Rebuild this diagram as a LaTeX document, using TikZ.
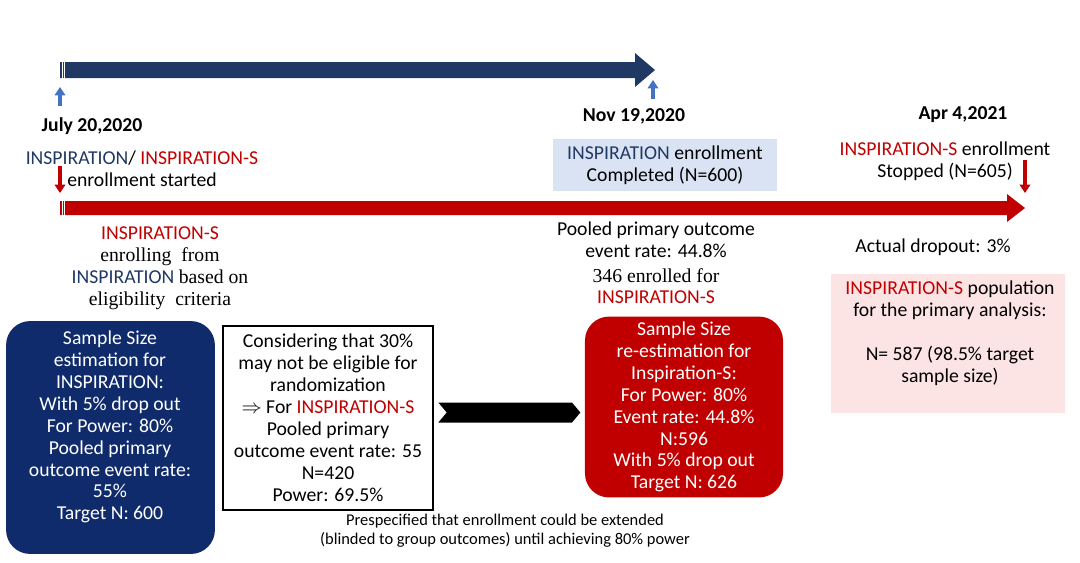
\documentclass[tikz,border=0pt]{standalone}
\usepackage{fontspec}
\setmainfont{Carlito}
\newfontfamily\timesfont{Liberation Serif}
\usetikzlibrary{calc,shapes.symbols,arrows.meta}

\definecolor{navyarrow}{HTML}{203864}
\definecolor{navybox}{HTML}{0F2B6B}
\definecolor{inspred}{HTML}{C00000}
\definecolor{tickblue}{HTML}{4472C4}
\definecolor{doneblue}{HTML}{DAE3F3}
\definecolor{stoppink}{HTML}{FCE4E4}
\newcommand{\insp}{\textcolor{navyarrow}{INSPIRATION}}
\newcommand{\insps}{\textcolor{inspred}{INSPIRATION-S}}

\begin{document}
\begin{tikzpicture}[x=0.025cm,y=-0.025cm,
    every node/.style={font=\fontsize{14}{15.6}\selectfont,inner sep=0pt,align=center},
    datelabel/.style={font=\fontsize{14}{16}\selectfont\bfseries},
    tick/.style={-{Triangle[length=6pt,width=7.5pt]},line width=2.2pt},
    roundbox/.style={rounded corners=0.6cm,text=white}]
    \useasboundingbox (0,0) rectangle (1080,562);
    \pgfmathsetmacro{\headlen}{18}
    % Define points
    \coordinate (bstart) at (60,70);
    \coordinate (bend) at (655,70);
    \coordinate (rstart) at (60,208);
    \coordinate (rend) at (1025,208);

    % Draw the two timelines
    \fill[navyarrow] ($(bstart)+(0,-8)$) -- ($(bend)+(-\headlen-2,-8)$) -- ($(bend)+(-\headlen-2,-17)$)
        -- (bend) -- ($(bend)+(-\headlen-2,17)$) -- ($(bend)+(-\headlen-2,8)$) -- ($(bstart)+(0,8)$) -- cycle;
    \fill[inspred] ($(rstart)+(0,-7)$) -- ($(rend)+(-\headlen,-7)$) -- ($(rend)+(-\headlen,-14)$)
        -- (rend) -- ($(rend)+(-\headlen,14)$) -- ($(rend)+(-\headlen,7)$) -- ($(rstart)+(0,7)$) -- cycle;
    \foreach \s in {2.5,4.5} {
        \draw[white,line width=0.5pt] ($(bstart)+(\s,-9)$) -- ($(bstart)+(\s,9)$);
        \draw[white,line width=0.5pt] ($(rstart)+(\s,-8)$) -- ($(rstart)+(\s,8)$);
    }

    % Dates and ticks
    \node[datelabel] (july) at (92,126) {July 20,2020};
    \node[datelabel] (nov) at (634,116) {Nov 19,2020};
    \node[datelabel] (apr) at (963,115) {Apr 4,2021};
    \coordinate (julytick) at (60,106);
    \coordinate (novtick) at (653,99);
    \draw[tick,tickblue] (julytick) -- ($(bstart)+(0,17)$);
    \draw[tick,tickblue] (novtick) -- ($(bend)+(-2,10)$);

    % Enrollment milestones
    \node (bothstart) at (142,158) {\insp/ \insps};
    \node[anchor=west] (started) at (67,180) {enrollment started};
    \coordinate (starttick) at (60,166);
    \draw[tick,inspred] (starttick) -- ($(rstart)+(0,-15)$);
    \node[fill=doneblue,minimum width=5.62cm,minimum height=1.3cm] (completed) at (665,165)
        {\insp{} enrollment\\Completed (N=600)};
    \node (stopped) at (945,161) {\insps{} enrollment\\Stopped (N=605)};
    \coordinate (stoptick) at (1025,160);
    \draw[tick,inspred] (stoptick) -- ($(rend)+(0,-15)$);

    % Texts under the red timeline
    \node (eligible) at (160,268) {\insps\\{\timesfont enrolling\ \ from}\\\insp{} {\timesfont based on}\\{\timesfont eligibility\ \ criteria}};
    \node (pooled) at (656,240) {Pooled primary outcome\\event rate: 44.8\%};
    \node[font=\fontsize{14}{15.6}\timesfont] (enrolled) at (656,276) {346 enrolled for};
    \node (enrolledS) at (656,297) {\insps};
    \node (dropout) at (933,247) {Actual dropout: 3\%};

    % Boxes
    \node[roundbox,fill=navybox,minimum width=5.22cm,minimum height=5.82cm] (sizebox) at (110.5,437.5) {};
    \node[text=white] (sizetext) at (110,427) {Sample Size\\estimation for\\INSPIRATION:\\With 5\% drop out\\For Power: 80\%\\Pooled primary\\outcome event rate:\\55\%\\Target N: 600};
    \node[draw,line width=1.4pt,fill=white,minimum width=5.25cm,minimum height=4.6cm] (eligbox) at (328,418)
        {Considering that 30\%\\may not be eligible for\\randomization\\$\Rightarrow$ For \insps\\Pooled primary\\outcome event rate: 55\\N=420\\Power: 69.5\%};
    \node[roundbox,fill=inspred,minimum width=4.95cm,minimum height=4.52cm] (resizebox) at (684,407)
        {Sample Size\\re-estimation for\\Inspiration-S:\\For Power: 80\%\\Event rate: 44.8\%\\N:596\\With 5\% drop out\\Target N: 626};
    \node[signal,signal from=west,signal to=east,signal pointer angle=100,fill=black,
        minimum width=3.55cm,minimum height=0.5cm] (chevron) at ($(eligbox.east)!0.5!(resizebox.west)$) {};
    \node[fill=stoppink,minimum width=5.85cm,minimum height=3.47cm] (population) at (948,343.5) {};
    \node (poptext) at (950,333.5) {\insps{} population\\for the primary analysis:\\[0.55cm]N= 587 (98.5\% target\\sample size)};

    \node[font=\fontsize{11.7}{13.4}\selectfont] (note) at (505,531)
        {Prespecified that enrollment could be extended\\(blinded to group outcomes) until achieving 80\% power};
\end{tikzpicture}
\end{document}
